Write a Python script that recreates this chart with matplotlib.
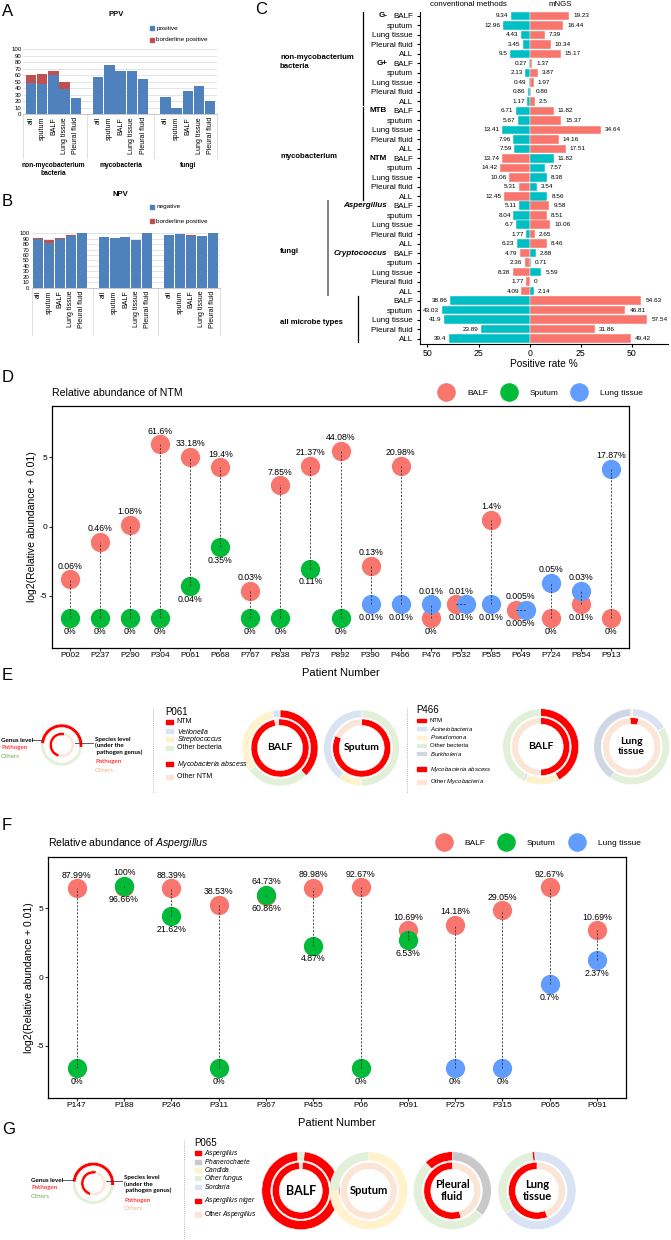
import numpy as np
import matplotlib
matplotlib.use('Agg')
import matplotlib.pyplot as plt
from matplotlib.patches import Wedge, Rectangle
from matplotlib.lines import Line2D

plt.rcParams['font.family'] = ['Liberation Sans', 'DejaVu Sans']
plt.rcParams['mathtext.fontset'] = 'custom'
plt.rcParams['mathtext.rm'] = 'Liberation Sans'
plt.rcParams['mathtext.it'] = 'Liberation Sans:italic'
plt.rcParams['mathtext.bf'] = 'Liberation Sans:bold'

# ---------------- data: A / B ----------------
sample_types = ['all', 'sputum', 'BALF', 'Lung tissue', 'Pleural fluid']
microbe_groups = ['non-mycobacterium\nbacteria', 'mycobacteria', 'fungi']
ppv_positive = [48, 47, 60, 38, 25, 57, 76, 66, 67, 54, 26, 10, 36, 43, 20]
ppv_borderline = [12, 15, 7, 12, 0, 0, 0, 0, 0, 0, 0, 0, 0, 0, 0]
npv_negative = [90, 83, 90, 95, 100, 93, 92, 94, 88, 100, 96, 99, 95, 95, 100]
npv_borderline = [2, 4, 1, 1.5, 0, 0, 0, 0, 0, 0, 1, 0, 1.5, 0, 0]

# ---------------- data: C ----------------
c_specimens = ['BALF', 'sputum', 'Lung tissue', 'Pleural fluid', 'ALL'] * 7
c_subgroups = ['G-', 'G+', 'MTB', 'NTM', 'Aspergillus', 'Cryptococcus']
c_groups = ['non-mycobacterium\nbacteria', 'mycobacterium', 'fungi', 'all microbe types']
c_group_rows = [(0, 9), (10, 19), (20, 29), (30, 34)]
conv_rate = [9.34, 12.96, 4.43, 3.45, 9.5,
             0.27, 2.13, 0.49, 0.86, 1.17,
             6.71, 5.67, 13.41, 7.96, 7.59,
             13.74, 14.42, 10.06, 5.31, 12.45,
             5.11, 8.04, 6.7, 1.77, 6.23,
             4.79, 2.36, 8.38, 1.77, 4.09,
             38.86, 43.03, 41.9, 23.89, 39.4]
mngs_rate = [19.23, 16.44, 7.39, 10.34, 15.17,
             1.37, 3.87, 1.97, 0.86, 2.5,
             11.82, 15.37, 34.64, 14.16, 17.51,
             11.82, 7.57, 8.38, 3.54, 8.56,
             9.58, 8.51, 10.06, 2.65, 8.46,
             2.88, 0.71, 5.59, 0, 2.14,
             54.63, 46.81, 57.54, 31.86, 49.42]

# ---------------- data: D (relative abundance %, None = not sampled) ----------------
ntm_patients = ['P002', 'P237', 'P290', 'P304', 'P061', 'P668', 'P767', 'P838', 'P873', 'P892',
                'P390', 'P466', 'P476', 'P532', 'P585', 'P649', 'P724', 'P854', 'P913']
ntm_balf = [0.06, 0.46, 1.08, 61.6, 33.18, 19.4, 0.03, 7.85, 21.37, 44.08,
            0.13, 20.98, 0, 0.01, 1.4, 0.005, 0, 0.01, 0]
ntm_sputum = [0, 0, 0, 0, 0.04, 0.35, 0, 0, 0.11, 0] + [None] * 9
ntm_lung = [None] * 10 + [0.01, 0.01, 0.01, 0.01, 0.01, 0.005, 0.05, 0.03, 17.87]

# ---------------- data: F ----------------
asp_patients = ['P147', 'P188', 'P246', 'P311', 'P367', 'P455', 'P06', 'P091', 'P275', 'P315', 'P065', 'P091']
asp_balf = [87.99, 96.66, 88.39, 38.53, 60.86, 89.98, 92.67, 10.69, 14.18, 29.05, 92.67, 10.69]
asp_sputum = [0, 100, 21.62, 0, 64.73, 4.87, 0, 6.53, None, None, None, None]
asp_lung = [None] * 8 + [0, 0, 0.7, 2.37]

# ---------------- data: E / G donuts (% of ring, clockwise from 12 o'clock) ----------------
p061_balf_outer = [('NTM', 38), ('Other bacteria', 27), ('Streptococcus', 32), ('Vellonella', 3)]
p061_balf_inner = [('Pathogen species', 98), ('Other species', 2)]
p061_sputum_outer = [('Other bacteria', 50), ('Streptococcus', 10), ('Vellonella', 40)]
p061_sputum_inner = [('Pathogen species', 82), ('Other species', 18)]
p466_balf_outer = [('NTM', 42), ('Pseudomona', 15), ('Burkholeria', 1), ('Other bacteria', 42)]
p466_balf_inner = [('Pathogen species', 50), ('Other species', 50)]
p466_lung_outer = [('Pseudomona', 1), ('Acinetobacteria', 16), ('Other bacteria', 43), ('Burkholeria', 40)]
p466_lung_inner = [('Pathogen species', 5), ('Other species', 95)]
p065_balf_outer = [('Other fungus', 3), ('Aspergillus', 97)]
p065_balf_inner = [('Other species', 2), ('Pathogen species', 98)]
p065_sputum_outer = [('Candida', 75), ('Other fungus', 25)]
p065_sputum_inner = [('Other species', 100)]
p065_pleural_outer = [('Phanerochaete', 36), ('Other fungus', 52), ('Aspergillus', 12)]
p065_pleural_inner = [('Other species', 45), ('Pathogen species', 55)]
p065_lung_outer = [('Sordaria', 66), ('Other fungus', 33), ('Aspergillus', 1)]
p065_lung_inner = [('Other species', 44), ('Pathogen species', 56)]
scheme_outer = [('Pathogen species', 51), ('Other bacteria', 49)]
scheme_inner = [('Pathogen species', 50), ('Other species', 50)]

RING_COLORS = {'NTM': '#FF0000', 'Aspergillus': '#FF0000', 'Pathogen species': '#FF0000',
               'Other species': '#FBE5D6', 'Vellonella': '#DAE3F3', 'Acinetobacteria': '#DAE3F3',
               'Sordaria': '#DAE3F3', 'Streptococcus': '#FFF2CC', 'Pseudomona': '#FFF2CC',
               'Candida': '#FFF2CC', 'Other bacteria': '#E2F0D9', 'Other fungus': '#E2F0D9',
               'Burkholeria': '#D0D7E4', 'Phanerochaete': '#C9C9C9'}

XL_BLUE, XL_RED = '#4F81BD', '#C0504D'
TEAL, SALMON = '#00BFC4', '#F8766D'
C_BALF, C_SPUT, C_LUNG = '#F8766D', '#00BA38', '#619CFF'

W, H = 671, 1240
fig = plt.figure(figsize=(W / 100, H / 100), dpi=100)


def px_axes(left, top, right, bottom):
    return fig.add_axes([left / W, 1 - bottom / H, (right - left) / W, (bottom - top) / H])


ov = fig.add_axes([0, 0, 1, 1], zorder=10)
ov.set_xlim(0, W)
ov.set_ylim(H, 0)
ov.axis('off')

for lab, x, y in [('A', 2, 11), ('B', 2, 201), ('C', 255, 10), ('D', 2, 377),
                  ('E', 2, 675), ('F', 2, 825), ('G', 2, 1130)]:
    ov.text(x, y, lab, fontsize=12, va='center', ha='left')

# ---------------- A / B ----------------
xpos = [g * 6 + i for g in range(3) for i in range(5)]


def excel_bars(ax, base, extra, xlim, sep_bottom, with_groups):
    ax.bar(xpos, base, width=0.92, color=XL_BLUE, zorder=2)
    ax.bar(xpos, extra, bottom=base, width=0.92, color=XL_RED, zorder=2)
    ax.set_xlim(*xlim)
    ax.set_ylim(0, 100)
    ax.set_yticks(range(0, 101, 10))
    ax.tick_params(axis='y', labelsize=4.3, length=0, pad=1.5)
    ax.set_xticks(xpos)
    ax.set_xticklabels(sample_types * 3, rotation=90, fontsize=5)
    ax.tick_params(axis='x', length=0, pad=2)
    ax.grid(axis='y', color='#D9D9D9', lw=0.5)
    ax.set_axisbelow(True)
    for s in ['top', 'right', 'left']:
        ax.spines[s].set_visible(False)
    ax.spines['bottom'].set_color('#BFBFBF')
    ax.spines['bottom'].set_linewidth(0.6)
    tr = ax.get_xaxis_transform()
    for xv in [xlim[0], 5, 11, xlim[1]]:
        ax.plot([xv, xv], [0, sep_bottom], color='#D9D9D9', lw=0.6, transform=tr, clip_on=False)
    if with_groups:
        for g, name in enumerate(microbe_groups):
            ax.text(g * 6 + 2, -0.73, name, transform=tr, ha='center', va='top',
                    fontsize=4.8, fontweight='bold', linespacing=1.3)


axA = px_axes(23.3, 49, 216.7, 114.3)
excel_bars(axA, ppv_positive, ppv_borderline, (-0.69, 16.58), -0.67, True)
ov.text(116, 15, 'PPV', fontsize=5.5, fontweight='bold', ha='center', va='center')
for yy, col, name in [(28.3, XL_BLUE, 'positive'), (40, XL_RED, 'borderline positive')]:
    ov.add_patch(Rectangle((150, yy - 2), 4, 4, color=col))
    ov.text(156.5, yy, name, fontsize=4.6, va='center')

axB = px_axes(31.7, 233.3, 220, 287.7)
excel_bars(axB, npv_negative, npv_borderline, (-0.6, 16.67), -0.87, False)
ov.text(120, 195, 'NPV', fontsize=5.5, fontweight='bold', ha='center', va='center')
for yy, col, name in [(206.7, XL_BLUE, 'negative'), (221, XL_RED, 'borderline positive')]:
    ov.add_patch(Rectangle((150, yy - 2), 4, 4, color=col))
    ov.text(156.5, yy, name, fontsize=4.6, va='center')

# ---------------- C ----------------
axC = px_axes(420, 11.7, 668, 344.3)
rows = np.arange(len(c_specimens))
left_cols = [SALMON if c > m else TEAL for c, m in zip(conv_rate, mngs_rate)]
right_cols = [TEAL if c > m else SALMON for c, m in zip(conv_rate, mngs_rate)]
axC.barh(rows, [-c for c in conv_rate], height=0.9, color=left_cols, edgecolor='white', lw=0.3)
axC.barh(rows, mngs_rate, height=0.9, color=right_cols, edgecolor='white', lw=0.3)
for r, c, m in zip(rows, conv_rate, mngs_rate):
    axC.text(-c - 1.2, r, f'{c:g}', ha='right', va='center', fontsize=4.6)
    axC.text(m + 2.0, r, f'{m:g}', ha='left', va='center', fontsize=4.6)
axC.set_xlim(-53.6, 67.6)
axC.set_ylim(34.6, -0.45)
axC.set_yticks(rows)
axC.set_yticklabels(c_specimens, fontsize=5.8)
axC.tick_params(axis='y', length=2.2, pad=3)
axC.set_xticks([-50, -25, 0, 25, 50])
axC.set_xticklabels(['50', '25', '0', '25', '50'], fontsize=6.3)
axC.tick_params(axis='x', length=2.2, pad=1)
axC.set_xlabel('Positive rate %', fontsize=7.3, labelpad=1)
for s in ['top', 'right']:
    axC.spines[s].set_visible(False)
for s in ['left', 'bottom']:
    axC.spines[s].set_linewidth(0.8)
ytr = axC.get_yaxis_transform()
for k, sub in enumerate(c_subgroups):
    it = 'italic' if k >= 4 else 'normal'
    axC.text(-0.133, k * 5, sub, transform=ytr, ha='right', va='center', fontsize=5.8,
             fontweight='bold', style=it, clip_on=False)
bracket_x = [-0.23, -0.23, -0.371, -0.249]
for name, (r0, r1), bx in zip(c_groups, c_group_rows, bracket_x):
    grey = name == 'fungi'
    axC.plot([bx, bx], [r0 - 0.45, r1 + 0.4], transform=ytr, clip_on=False,
             color='#808080' if grey else 'black', lw=1.4 if grey else 0.9)
    axC.text(-0.5645, (r0 + r1) / 2 + 0.35, name, transform=ytr, ha='left', va='center',
             fontsize=5.6, fontweight='bold', clip_on=False, linespacing=1.35)
axC.text(-30, -1.26, 'conventional methods', ha='center', va='center', fontsize=5.7, clip_on=False)
axC.text(15, -1.26, 'mNGS', ha='center', va='center', fontsize=5.7, clip_on=False)


# ---------------- D / F ----------------
def lollipop(ax, patients, balf, sputum, lung, title, title_y, leg_xy):
    series = [(balf, C_BALF), (sputum, C_SPUT), (lung, C_LUNG)]
    for i in range(len(patients)):
        vals = [(v[i], col) for v, col in series if v[i] is not None]
        ys = [np.log2(v + 0.01) for v, _ in vals]
        tie = len(vals) == 2 and vals[0][0] == vals[1][0]
        offs = [-0.17, 0.17] if tie else [0, 0]
        for k, ((v, col), y) in enumerate(zip(vals, ys)):
            ax.plot(i + offs[k], y, 'o', ms=13.9, color=col, mec='none', zorder=2)
        if tie:
            ax.plot([i + offs[0], i + offs[1]], ys, color='#333333', lw=0.6, ls=(0, (2.5, 1.8)), zorder=3)
        else:
            ax.plot([i, i], [min(ys), max(ys)], color='#333333', lw=0.6, ls=(0, (2.5, 1.8)), zorder=3)
        order = sorted(range(len(vals)), key=lambda k: ys[k])
        lo, hi = order[0], order[-1]
        ax.annotate(f'{vals[hi][0]:g}%', (i, ys[hi]), xytext=(0, 9.5), textcoords='offset points',
                    ha='center', va='center', fontsize=6.3, zorder=4)
        ax.annotate(f'{vals[lo][0]:g}%', (i, ys[lo]), xytext=(0, -9.5), textcoords='offset points',
                    ha='center', va='center', fontsize=6.3, zorder=4)
    ax.set_xlim(-0.6, len(patients) - 0.4)
    ax.set_ylim(-8.8, 8.75)
    ax.set_yticks([-5, 0, 5])
    ax.set_yticklabels(['-5', '0', '5'])
    ax.set_xticks(range(len(patients)))
    ax.set_xticklabels(patients)
    ax.tick_params(labelsize=6, length=2, pad=1.2, color='#333333')
    for s in ax.spines.values():
        s.set_linewidth(0.9)
    ax.set_xlabel('Patient Number', fontsize=8, labelpad=6)
    ax.set_ylabel('log2(Relative abundance + 0.01)', fontsize=7.5, labelpad=2)
    ax.text(0, title_y, title, transform=ax.transAxes, ha='left', va='center', fontsize=7.6)
    handles = [Line2D([], [], marker='o', ls='none', ms=13.4, color=c, mec='none')
               for c in [C_BALF, C_SPUT, C_LUNG]]
    ax.legend(handles, ['BALF', 'Sputum', 'Lung tissue'], ncol=3, loc='center right',
              bbox_to_anchor=leg_xy, frameon=False, fontsize=6, handlelength=1.0,
              handletextpad=2.0, columnspacing=2.0, borderaxespad=0, borderpad=0)


axD = px_axes(52, 405.7, 629, 648)
lollipop(axD, ntm_patients, ntm_balf, ntm_sputum, ntm_lung, 'Relative abundance of NTM', 1.052, (1.024, 1.052))

axF = px_axes(48.3, 857, 625.5, 1098)
lollipop(axF, asp_patients, asp_balf, asp_sputum, asp_lung,
         r'Relative abundance of $\mathit{Aspergillus}$', 1.058, (1.026, 1.058))


# ---------------- E / G donuts ----------------
def ring(cx, cy, r, w, parts, start=0.0):
    total = sum(v for _, v in parts)
    f0 = start
    for key, v in parts:
        f1 = f0 + v / total
        ov.add_patch(Wedge((cx, cy), r, 360 * f0 - 90, 360 * f1 - 90, width=w,
                           facecolor=RING_COLORS[key], edgecolor='white', lw=0.4))
        f0 = f1


def donut(cx, cy, outer, inner, label, fs, outer_start=0.0, inner_start=0.0, r=38, wo=7.5, ri=29, wi=6.5):
    ring(cx, cy, r, wo, outer, outer_start)
    ring(cx, cy, ri, wi, inner, inner_start)
    ov.text(cx, cy, label, ha='center', va='center', fontsize=fs, fontweight='bold',
            family='Lato', linespacing=1.1)


def scheme(cx, cy, tx_left, tx_right, ty):
    ring(cx, cy, 21, 3.5, scheme_outer, 0.76)
    ring(cx, cy, 12.5, 3, scheme_inner, 0.54)
    ov.text(tx_left, ty, 'Genus level', fontsize=4.5, fontweight='bold', family='Lato', va='center')
    ov.plot([tx_left + 31, cx - 20], [ty, ty], color='#404040', lw=0.6)
    ov.text(tx_left, ty + 8, 'Pathogen', fontsize=4.5, color='#FF0000', family='Lato', va='center')
    ov.text(tx_left, ty + 16, 'Others', fontsize=4.5, color='#70AD47', family='Lato', va='center')
    ov.plot([cx + 13, tx_right - 2], [cy - 2, cy - 2], color='#404040', lw=0.6)
    ov.text(tx_right, cy + 1, 'Species level\n(under the\n pathogen genus)', fontsize=4.5,
            fontweight='bold', family='Lato', va='center', linespacing=1.25)
    ov.text(tx_right, cy + 17, 'Pathogen', fontsize=4.5, color='#FF0000', family='Lato', va='center')
    ov.text(tx_right, cy + 25, 'Others', fontsize=4.5, color='#F4B183', family='Lato', va='center')


def legend_block(x, items, fs, rw, family='Liberation Sans'):
    for name, key, y, hgt in items:
        ov.add_patch(Rectangle((x, y - hgt / 2), rw, hgt, color=RING_COLORS[key]))
        ov.text(x + rw + 3.5, y, name, fontsize=fs, va='center', family=family)


# E
scheme(61.7, 745, 1, 95, 740)
for xs in [153, 407]:
    ov.plot([xs, xs], [708, 793], color='#A0A0A0', lw=0.6, ls=(0, (1, 1.5)))
ov.text(165.7, 712, 'P061', fontsize=7, va='center')
legend_block(165.7, [('NTM', 'NTM', 721.7, 3.7),
                     (r'$\mathit{Vellonella}$', 'Vellonella', 731, 3.7),
                     (r'$\mathit{Streptococcus}$', 'Streptococcus', 739.3, 3.7),
                     ('Other becteria', 'Other bacteria', 747.7, 3.7),
                     (r'$\mathit{Mycobacteria\ abscess}$', 'Pathogen species', 764.3, 4.3),
                     ('Other NTM', 'Other species', 776.7, 4.3)], 5, 7.6)
donut(280, 748, p061_balf_outer, p061_balf_inner, 'BALF', 7.5, inner_start=-0.01)
donut(361.7, 748, p061_sputum_outer, p061_sputum_inner, 'Sputum', 7.5)

ov.text(416.7, 710, 'P466', fontsize=7, va='center')
legend_block(417, [('NTM', 'NTM', 720, 3),
                   (r'$\mathit{Acinetobacteria}$', 'Acinetobacteria', 728.7, 3),
                   (r'$\mathit{Pseudomona}$', 'Pseudomona', 737, 3),
                   ('Other becteria', 'Other bacteria', 745.3, 3),
                   (r'$\mathit{Burkholeria}$', 'Burkholeria', 753.7, 3),
                   (r'$\mathit{Mycobacteria\ abscess}$', 'Pathogen species', 769.3, 4),
                   (r'Other $\mathit{Mycobacteria}$', 'Other species', 781.7, 4)], 4.3, 9)
donut(540.7, 746.7, p466_balf_outer, p466_balf_inner, 'BALF', 7.5)
donut(631.7, 746.7, p466_lung_outer, p466_lung_inner, 'Lung\ntissue', 7.5, outer_start=-0.005, inner_start=-0.01)

# G
scheme(93.3, 1183.3, 31, 124, 1180)
ov.plot([184, 184], [1140, 1240], color='#A0A0A0', lw=0.6, ls=(0, (1, 1.5)))
ov.text(194.7, 1142.7, 'P065', fontsize=7, va='center')
legend_block(194.7, [(r'$\mathit{Aspergillus}$', 'Aspergillus', 1153.3, 4),
                     (r'$\mathit{Phanerochaete}$', 'Phanerochaete', 1161.7, 4),
                     (r'$\mathit{Candida}$', 'Candida', 1170, 4),
                     (r'$\mathit{Other\ fungus}$', 'Other fungus', 1178.3, 4),
                     (r'$\mathit{Sordaria}$', 'Sordaria', 1186.7, 4),
                     (r'$\mathit{Aspergillus\ niger}$', 'Pathogen species', 1201, 4.5),
                     (r'Other $\mathit{Aspergillus}$', 'Other species', 1214.3, 4.5)], 4.8, 6.3)
donut(300.8, 1190.7, p065_balf_outer, p065_balf_inner, 'BALF', 9, outer_start=-0.015,
      inner_start=-0.01, r=39, wo=9, ri=28.5, wi=7)
donut(368.8, 1190.7, p065_sputum_outer, p065_sputum_inner, 'Sputum', 8, r=39, wo=9, ri=28.5, wi=7)
donut(452.3, 1190.7, p065_pleural_outer, p065_pleural_inner, 'Pleural\nfluid', 8, r=39, wo=9, ri=28.5, wi=7)
donut(537, 1190.7, p065_lung_outer, p065_lung_inner, 'Lung\ntissue', 8, outer_start=-0.01,
      r=39, wo=9, ri=28.5, wi=7)

fig.savefig('out.png', dpi=100)
